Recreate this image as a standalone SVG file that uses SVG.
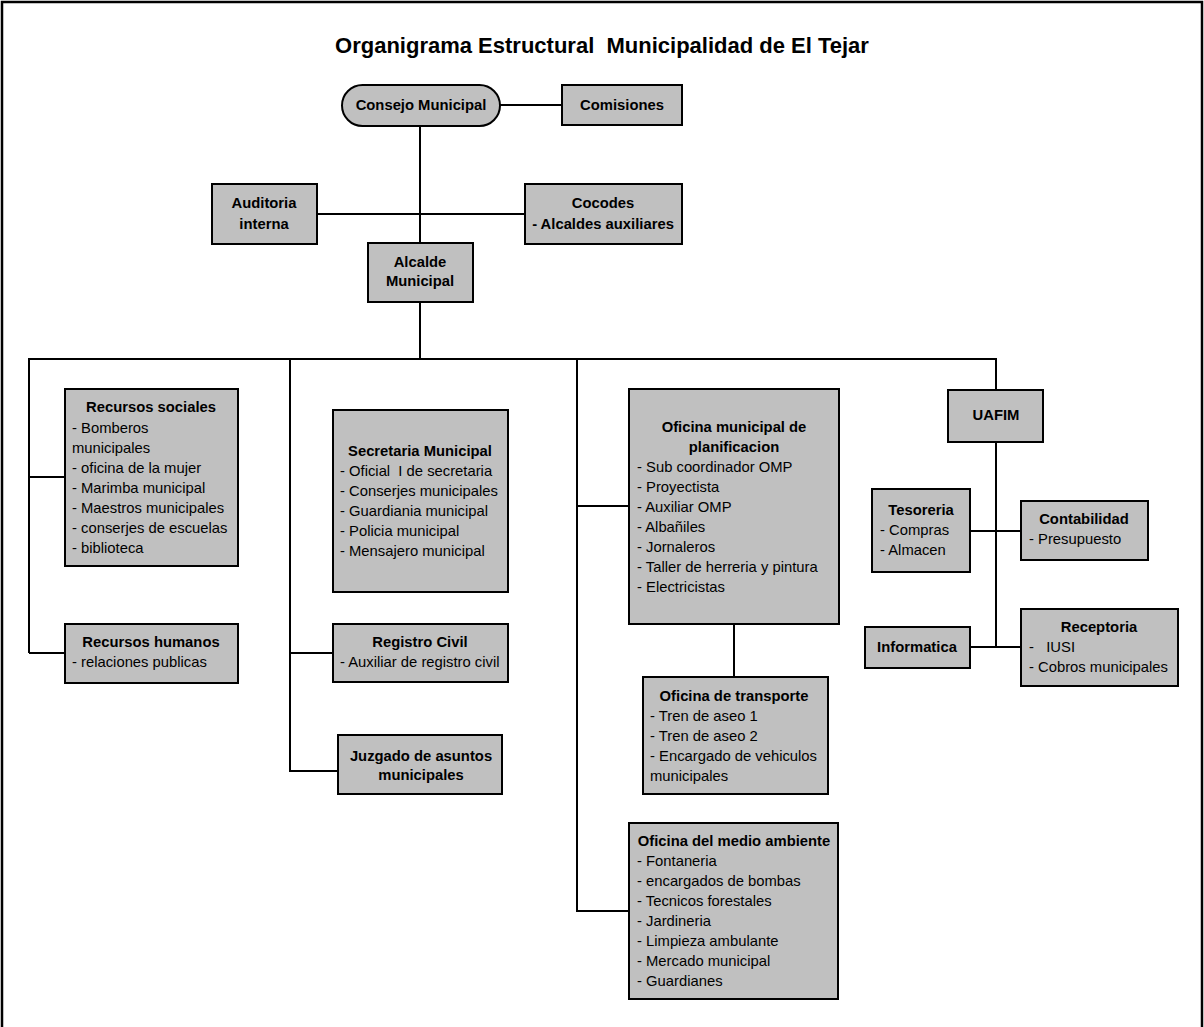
<svg xmlns="http://www.w3.org/2000/svg" width="1204" height="1027" viewBox="0 0 1204 1027">
<style>
  .box { fill: #C0C0C0; stroke: #000; stroke-width: 2; }
  .ln { fill: none; stroke: #000; stroke-width: 2; }
  text { font-family: "Liberation Sans", Arial, sans-serif; font-size: 14.8px; fill: #000; }
  .b { font-weight: bold; }
  .c { text-anchor: middle; }
  .title { font-size: 22px; font-weight: bold; text-anchor: middle; }
</style>
<rect x="0" y="0" width="1204" height="1027" fill="#fff"/>
<rect x="2" y="2" width="1200" height="1060" fill="none" stroke="#000" stroke-width="2.5"/>
<text class="title" x="602" y="53" xml:space="preserve">Organigrama Estructural  Municipalidad de El Tejar</text>

<g id="connectors">
  <path class="ln" d="M500 105 H562"/>
  <path class="ln" d="M420 126 V243"/>
  <path class="ln" d="M317 214 H525"/>
  <path class="ln" d="M420 302 V359"/>
  <path class="ln" d="M29 653 V359 H996 V390"/>
  <path class="ln" d="M29 477 H65"/>
  <path class="ln" d="M29 653 H65"/>
  <path class="ln" d="M290 359 V771 H338"/>
  <path class="ln" d="M290 653 H333"/>
  <path class="ln" d="M577 359 V911 H629"/>
  <path class="ln" d="M577 506 H629"/>
  <path class="ln" d="M734 624 V677"/>
  <path class="ln" d="M996 442 V647"/>
  <path class="ln" d="M970 531 H1021"/>
  <path class="ln" d="M970 647 H1021"/>
</g>

<g id="consejo">
  <rect class="box" x="342" y="85" width="158" height="41" rx="20.5" ry="20.5"/>
  <text class="b c" x="421" y="110">Consejo Municipal</text>
</g>
<g id="comisiones">
  <rect class="box" x="562" y="85" width="120" height="40"/>
  <text class="b c" x="622" y="110">Comisiones</text>
</g>
<g id="auditoria">
  <rect class="box" x="212" y="184" width="105" height="60"/>
  <text class="b c" x="264" y="208">Auditoria</text>
  <text class="b c" x="264" y="229">interna</text>
</g>
<g id="cocodes">
  <rect class="box" x="525" y="184" width="157" height="60"/>
  <text class="b c" x="603" y="208">Cocodes</text>
  <text class="b c" x="603" y="229">- Alcaldes auxiliares</text>
</g>
<g id="alcalde">
  <rect class="box" x="368" y="243" width="105" height="59"/>
  <text class="b c" x="420" y="267">Alcalde</text>
  <text class="b c" x="420" y="286">Municipal</text>
</g>

<g id="recursos-sociales">
  <rect class="box" x="65" y="389" width="173" height="177"/>
  <text class="b c" x="151" y="412">Recursos sociales</text>
  <text x="72" y="433">- Bomberos</text>
  <text x="72" y="453">municipales</text>
  <text x="72" y="473">- oficina de la mujer</text>
  <text x="72" y="493">- Marimba municipal</text>
  <text x="72" y="513">- Maestros municipales</text>
  <text x="72" y="533">- conserjes de escuelas</text>
  <text x="72" y="553">- biblioteca</text>
</g>
<g id="recursos-humanos">
  <rect class="box" x="65" y="624" width="173" height="59"/>
  <text class="b c" x="151" y="647">Recursos humanos</text>
  <text x="72" y="667">- relaciones publicas</text>
</g>

<g id="secretaria">
  <rect class="box" x="333" y="410" width="175" height="182"/>
  <text class="b c" x="420" y="456">Secretaria Municipal</text>
  <text x="340" y="476" xml:space="preserve">- Oficial  I de secretaria</text>
  <text x="340" y="496">- Conserjes municipales</text>
  <text x="340" y="516">- Guardiania municipal</text>
  <text x="340" y="536">- Policia municipal</text>
  <text x="340" y="556">- Mensajero municipal</text>
</g>
<g id="registro-civil">
  <rect class="box" x="333" y="624" width="175" height="58"/>
  <text class="b c" x="420" y="647">Registro Civil</text>
  <text x="340" y="667">- Auxiliar de registro civil</text>
</g>
<g id="juzgado">
  <rect class="box" x="338" y="735" width="164" height="59"/>
  <text class="b c" x="421" y="761">Juzgado de asuntos</text>
  <text class="b c" x="421" y="780">municipales</text>
</g>

<g id="planificacion">
  <rect class="box" x="629" y="389" width="210" height="235"/>
  <text class="b c" x="734" y="432">Oficina municipal de</text>
  <text class="b c" x="734" y="452">planificacion</text>
  <text x="637" y="472">- Sub coordinador OMP</text>
  <text x="637" y="492">- Proyectista</text>
  <text x="637" y="512">- Auxiliar OMP</text>
  <text x="637" y="532">- Albañiles</text>
  <text x="637" y="552">- Jornaleros</text>
  <text x="637" y="572">- Taller de herreria y pintura</text>
  <text x="637" y="592">- Electricistas</text>
</g>
<g id="transporte">
  <rect class="box" x="643" y="677" width="185" height="117"/>
  <text class="b c" x="734" y="701">Oficina de transporte</text>
  <text x="650" y="721">- Tren de aseo 1</text>
  <text x="650" y="741">- Tren de aseo 2</text>
  <text x="650" y="761">- Encargado de vehiculos</text>
  <text x="650" y="781">municipales</text>
</g>
<g id="medio-ambiente">
  <rect class="box" x="629" y="823" width="209" height="176"/>
  <text class="b c" x="734" y="846">Oficina del medio ambiente</text>
  <text x="637" y="866">- Fontaneria</text>
  <text x="637" y="886">- encargados de bombas</text>
  <text x="637" y="906">- Tecnicos forestales</text>
  <text x="637" y="926">- Jardineria</text>
  <text x="637" y="946">- Limpieza ambulante</text>
  <text x="637" y="966">- Mercado municipal</text>
  <text x="637" y="986">- Guardianes</text>
</g>

<g id="uafim">
  <rect class="box" x="948" y="390" width="95" height="52"/>
  <text class="b c" x="996" y="420">UAFIM</text>
</g>
<g id="tesoreria">
  <rect class="box" x="872" y="489" width="98" height="83"/>
  <text class="b c" x="921" y="515">Tesoreria</text>
  <text x="880" y="535">- Compras</text>
  <text x="880" y="555">- Almacen</text>
</g>
<g id="contabilidad">
  <rect class="box" x="1021" y="501" width="127" height="59"/>
  <text class="b c" x="1084" y="524">Contabilidad</text>
  <text x="1029" y="544">- Presupuesto</text>
</g>
<g id="informatica">
  <rect class="box" x="865" y="627" width="105" height="41"/>
  <text class="b c" x="917" y="652">Informatica</text>
</g>
<g id="receptoria">
  <rect class="box" x="1021" y="609" width="157" height="77"/>
  <text class="b c" x="1099" y="632">Receptoria</text>
  <text x="1029" y="652" xml:space="preserve">-   IUSI</text>
  <text x="1029" y="672">- Cobros municipales</text>
</g>
</svg>
